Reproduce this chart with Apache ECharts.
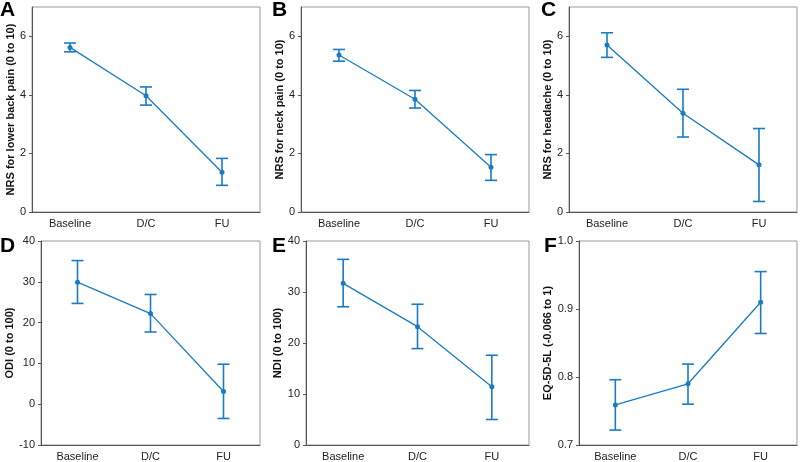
<!DOCTYPE html>
<html>
<head>
<meta charset="utf-8">
<script src="https://cdn.jsdelivr.net/npm/echarts@6/dist/echarts.min.js"></script>
<style>
  html, body { margin: 0; padding: 0; background: #fff; }
  #container { width: 800px; height: 462px; }
</style>
</head>
<body>
<div id="container"></div>
<script>
var timepoints = ['Baseline', 'D/C', 'FU'];

// mean, lower, upper per panel
var nrsBackMean = [5.62, 3.97, 1.36];
var nrsBackLow = [5.47, 3.65, 0.91];
var nrsBackHigh = [5.77, 4.27, 1.83];

var nrsNeckMean = [5.36, 3.85, 1.53];
var nrsNeckLow = [5.15, 3.55, 1.08];
var nrsNeckHigh = [5.55, 4.15, 1.96];

var nrsHeadMean = [5.70, 3.37, 1.61];
var nrsHeadLow = [5.28, 2.56, 0.36];
var nrsHeadHigh = [6.12, 4.19, 2.85];

var odiMean = [29.9, 22.2, 3.1];
var odiLow = [24.7, 17.7, -3.5];
var odiHigh = [35.2, 26.9, 9.8];

var ndiMean = [31.7, 23.2, 11.4];
var ndiLow = [27.1, 18.9, 5.0];
var ndiHigh = [36.4, 27.6, 17.6];

var eqMean = [0.759, 0.790, 0.910];
var eqLow = [0.722, 0.760, 0.864];
var eqHigh = [0.796, 0.819, 0.955];

var panels = [
    { letter: 'A', name: 'NRS for lower back pain (0 to 10)', mean: nrsBackMean, low: nrsBackLow, high: nrsBackHigh,
      min: 0, max: 7, interval: 2, grid: { left: 32, top: 7, width: 228, height: 205 }, lx: 0, ly: 0, gap: 14 },
    { letter: 'B', name: 'NRS for neck pain (0 to 10)', mean: nrsNeckMean, low: nrsNeckLow, high: nrsNeckHigh,
      min: 0, max: 7, interval: 2, grid: { left: 301, top: 7, width: 228, height: 205 }, lx: 272, ly: 0, gap: 16 },
    { letter: 'C', name: 'NRS for headache (0 to 10)', mean: nrsHeadMean, low: nrsHeadLow, high: nrsHeadHigh,
      min: 0, max: 7, interval: 2, grid: { left: 569, top: 7, width: 228, height: 205 }, lx: 541, ly: 0, gap: 15 },
    { letter: 'D', name: 'ODI (0 to 100)', mean: odiMean, low: odiLow, high: odiHigh,
      min: -10, max: 40, interval: 10, grid: { left: 41, top: 241, width: 219, height: 206 }, lx: 0, ly: 236, gap: 23 },
    { letter: 'E', name: 'NDI (0 to 100)', mean: ndiMean, low: ndiLow, high: ndiHigh,
      min: 0, max: 40, interval: 10, grid: { left: 306, top: 241, width: 223, height: 206 }, lx: 272, ly: 236, gap: 21 },
    { letter: 'F', name: 'EQ-5D-5L (-0.066 to 1)', mean: eqMean, low: eqLow, high: eqHigh,
      min: 0.7, max: 1.0, interval: 0.1, grid: { left: 579, top: 241, width: 218, height: 206 }, lx: 544, ly: 236, gap: 24 }
];

var blue = '#1a7bc2';
var grids = [], xAxes = [], yAxes = [], series = [], graphics = [];

panels.forEach(function (p, i) {
    grids.push(Object.assign({ show: true, borderColor: '#9a9a9a', borderWidth: 1, backgroundColor: '#fff' }, p.grid));
    xAxes.push({
        type: 'category', gridIndex: i, data: timepoints, boundaryGap: true,
        axisLine: { onZero: false, lineStyle: { color: '#555', width: 1 } },
        axisTick: { alignWithLabel: true, length: 3, lineStyle: { color: '#555' } },
        axisLabel: { color: '#222', fontSize: 11, margin: 6, fontFamily: 'Liberation Sans' }
    });
    yAxes.push({
        type: 'value', gridIndex: i, min: p.min, max: p.max, interval: p.interval,
        name: p.name, nameLocation: 'middle', nameGap: p.gap,
        nameTextStyle: { color: '#111', fontSize: 11, fontWeight: 'bold', fontFamily: 'Liberation Sans' },
        splitLine: { show: false },
        axisLine: { show: true, onZero: false, lineStyle: { color: '#555', width: 1 } },
        axisTick: { show: true, length: 3, lineStyle: { color: '#555' } },
        axisLabel: {
            color: '#222', fontSize: 11, margin: 6, fontFamily: 'Liberation Sans',
            formatter: function (v) { return p.letter === 'F' ? v.toFixed(1) : String(Math.round(v)); },
            showMaxLabel: p.letter === 'D' || p.letter === 'E' || p.letter === 'F'
        }
    });
    series.push({
        type: 'line', xAxisIndex: i, yAxisIndex: i, data: p.mean,
        symbol: 'circle', symbolSize: 5, showSymbol: true,
        lineStyle: { color: blue, width: 1.3 }, itemStyle: { color: blue },
        animation: false, z: 3
    });
    var errData = p.mean.map(function (m, k) { return [k, p.low[k], p.high[k]]; });
    series.push({
        type: 'custom', xAxisIndex: i, yAxisIndex: i, data: errData, animation: false, z: 4,
        renderItem: function (params, api) {
            var lo = api.coord([api.value(0), api.value(1)]);
            var hi = api.coord([api.value(0), api.value(2)]);
            var hw = 6;
            var st = { stroke: blue, lineWidth: 1.6 };
            return {
                type: 'group',
                children: [
                    { type: 'line', shape: { x1: lo[0], y1: lo[1], x2: hi[0], y2: hi[1] }, style: st },
                    { type: 'line', shape: { x1: lo[0] - hw, y1: lo[1], x2: lo[0] + hw, y2: lo[1] }, style: st },
                    { type: 'line', shape: { x1: hi[0] - hw, y1: hi[1], x2: hi[0] + hw, y2: hi[1] }, style: st }
                ]
            };
        }
    });
    graphics.push({
        type: 'text', left: p.lx, top: p.ly,
        style: { text: p.letter, font: 'bold 21px "Liberation Sans"', fill: '#000' }
    });
});

var myChart = echarts.init(document.getElementById('container'));
myChart.setOption({
    animation: false,
    grid: grids,
    xAxis: xAxes,
    yAxis: yAxes,
    series: series,
    graphic: graphics
});
</script>
</body>
</html>
